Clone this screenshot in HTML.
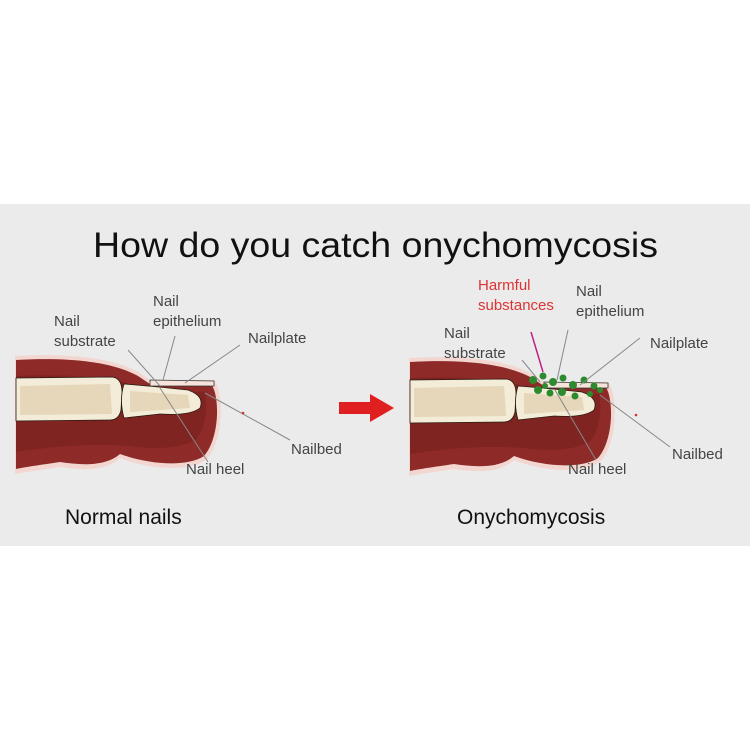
<!DOCTYPE html>
<html><head><style>html,body{margin:0;padding:0;background:#fff}svg{display:block}</style></head>
<body>
<svg width="750" height="750" viewBox="0 0 750 750" xmlns="http://www.w3.org/2000/svg" font-family="Liberation Sans, sans-serif">
<defs>
<g id="finger">
  <path d="M15,356 C70,353 115,358 140,373 L150,380 L214,380 C224,392 224,440 207,459 C190,472 150,470 120,458 C105,472 80,470 60,467 C40,470 25,472 15,474 Z" fill="#f3d6d0"/>
  <path d="M16,360 C70,357 113,362 138,376 L150,384 L211,384 C220,395 220,438 204,456 C188,467 150,465 120,454 C105,467 80,465 60,462 C40,465 25,467 16,469 Z" fill="#8e2a28"/>
  <path d="M16,376 C60,374 100,376 130,384 L150,390 L205,392 Q210,420 196,440 Q170,452 130,446 Q80,442 16,452 Z" fill="#6e1c1b" opacity="0.45"/>
  <path d="M16,378 L112,377 Q122,378 122,392 L121,410 Q119,420 110,420 L16,421 Z" fill="#f2ecd8" stroke="#2a1a10" stroke-width="0.8"/>
  <path d="M124,384 Q150,386 188,390 Q205,396 200,408 Q190,416 160,414 L124,418 Q119,400 124,384 Z" fill="#f2ecd8" stroke="#2a1a10" stroke-width="0.8"/>
  <path d="M20,386 L110,384 L112,414 L20,415 Z" fill="#dcc4a2" opacity="0.55"/>
  <path d="M130,391 L188,395 L190,408 L130,412 Z" fill="#dcc4a2" opacity="0.55"/>
  <path d="M150,380 L214,381 L214,386 L150,386 Z" fill="#f6e4dc" stroke="#333" stroke-width="0.8"/>
</g>
</defs>
<rect x="0" y="204" width="750" height="342" fill="#ebebeb"/>
<text x="93" y="257" font-size="35" fill="#111" textLength="565" lengthAdjust="spacingAndGlyphs">How do you catch onychomycosis</text>

<use href="#finger"/>
<g stroke="#888" stroke-width="1" fill="none">
  <line x1="128" y1="350" x2="160" y2="386"/>
  <line x1="175" y1="336" x2="163" y2="380"/>
  <line x1="240" y1="345" x2="185" y2="383"/>
  <line x1="205" y1="393" x2="290" y2="440"/>
  <line x1="160" y1="388" x2="208" y2="462"/>
</g>
<circle cx="243" cy="413" r="1.3" fill="#c33"/>
<g font-size="15" fill="#444">
  <text x="54" y="326">Nail</text><text x="54" y="346">substrate</text>
  <text x="153" y="306">Nail</text><text x="153" y="326">epithelium</text>
  <text x="248" y="343">Nailplate</text>
  <text x="291" y="454">Nailbed</text>
  <text x="186" y="474">Nail heel</text>
</g>
<text x="65" y="524" font-size="21" fill="#111">Normal nails</text>

<path d="M339,402 L370,402 L370,394 L394,408 L370,422 L370,414 L339,414 Z" fill="#e02020"/>

<g transform="translate(394,2)"><use href="#finger"/></g>
<g fill="#2e8a2e">
  <circle cx="533" cy="380" r="4"/><circle cx="543" cy="376" r="3.5"/><circle cx="553" cy="382" r="4"/>
  <circle cx="563" cy="378" r="3.5"/><circle cx="573" cy="385" r="4"/><circle cx="584" cy="380" r="3.5"/>
  <circle cx="594" cy="386" r="3.5"/><circle cx="538" cy="390" r="4"/><circle cx="550" cy="393" r="3.5"/>
  <circle cx="562" cy="392" r="4"/><circle cx="575" cy="396" r="3.5"/><circle cx="590" cy="394" r="3"/>
  <circle cx="600" cy="390" r="3"/><circle cx="545" cy="386" r="3"/>
</g>
<g stroke="#888" stroke-width="1" fill="none">
  <line x1="522" y1="360" x2="540" y2="382"/>
  <line x1="568" y1="330" x2="557" y2="380"/>
  <line x1="640" y1="338" x2="580" y2="385"/>
  <line x1="600" y1="395" x2="670" y2="447"/>
  <line x1="555" y1="390" x2="596" y2="460"/>
</g>
<line x1="531" y1="332" x2="543" y2="372" stroke="#c0208a" stroke-width="1.5"/>
<circle cx="636" cy="415" r="1.3" fill="#c33"/>
<text x="478" y="290" font-size="15" fill="#d33">Harmful</text>
<text x="478" y="310" font-size="15" fill="#d33">substances</text>
<g font-size="15" fill="#444">
  <text x="576" y="296">Nail</text><text x="576" y="316">epithelium</text>
  <text x="444" y="338">Nail</text><text x="444" y="358">substrate</text>
  <text x="650" y="348">Nailplate</text>
  <text x="672" y="459">Nailbed</text>
  <text x="568" y="474">Nail heel</text>
</g>
<text x="457" y="524" font-size="21" fill="#111">Onychomycosis</text>
</svg>
</body></html>
